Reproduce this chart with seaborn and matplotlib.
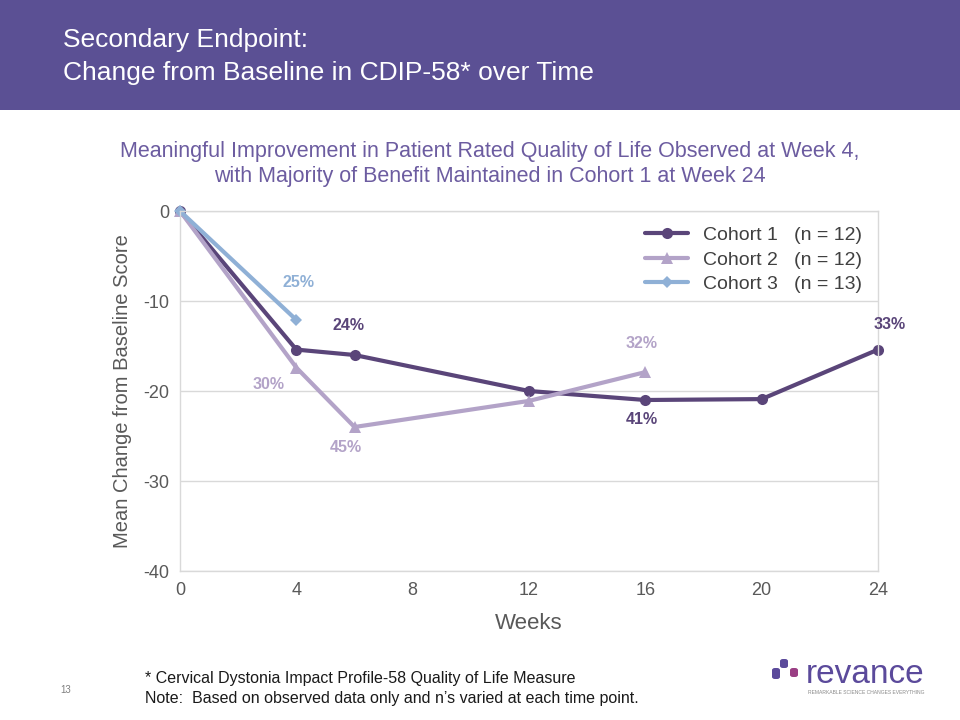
import numpy as np
import pandas as pd
import matplotlib
matplotlib.use("Agg")
import matplotlib.pyplot as plt
import seaborn as sns
from matplotlib.patches import Rectangle, FancyBboxPatch

sns.set_theme(style="white")
plt.rcParams['font.family'] = ['Liberation Sans', 'DejaVu Sans']
plt.rcParams['axes.unicode_minus'] = False

# ---- data ----
weeks_c1 = [0, 4, 6, 12, 16, 20, 24]
vals_c1 = [0, -15.4, -16.0, -20.0, -21.0, -20.9, -15.4]
weeks_c2 = [0, 4, 6, 12, 16]
vals_c2 = [0, -17.4, -24.0, -21.1, -17.9]
weeks_c3 = [0, 4]
vals_c3 = [0, -12.1]
cohort_names = ["Cohort 1   (n = 12)", "Cohort 2   (n = 12)", "Cohort 3   (n = 13)"]
x_ticks = [0, 4, 8, 12, 16, 20, 24]
y_ticks = [0, -10, -20, -30, -40]
# percentage annotations: (week, value, text, cohort index)
ann_weeks = [4, 6, 4, 6, 16, 16, 24]
ann_vals = [-12.1, -16.0, -17.4, -24.0, -17.9, -21.0, -15.4]
ann_text = ["25%", "24%", "30%", "45%", "32%", "41%", "33%"]
ann_cohort = [2, 0, 1, 1, 1, 0, 0]

colors = ["#5a4579", "#b3a3c8", "#8fb0d6"]
markers = ["o", "^", "D"]

df = pd.concat([
    pd.DataFrame({"Weeks": weeks_c1, "Score": vals_c1, "Cohort": cohort_names[0]}),
    pd.DataFrame({"Weeks": weeks_c2, "Score": vals_c2, "Cohort": cohort_names[1]}),
    pd.DataFrame({"Weeks": weeks_c3, "Score": vals_c3, "Cohort": cohort_names[2]}),
])

fig = plt.figure(figsize=(9.6, 7.2), dpi=100)
fig.patch.set_facecolor("white")

# header band
fig.patches.append(Rectangle((0, 1 - 110 / 720), 1, 110 / 720, transform=fig.transFigure,
                             facecolor="#5b5094", edgecolor="none", zorder=0))
fig.text(63 / 960, 1 - 40 / 720, "Secondary Endpoint:", color="white", fontsize=19,
         va="center", ha="left")
fig.text(63 / 960, 1 - 73 / 720, "Change from Baseline in CDIP-58* over Time", color="white",
         fontsize=19, va="center", ha="left")

# chart title
fig.text(490 / 960, 1 - 164 / 720,
         "Meaningful Improvement in Patient Rated Quality of Life Observed at Week 4,\n"
         "with Majority of Benefit Maintained in Cohort 1 at Week 24",
         color="#6c5ca0", fontsize=15.5, ha="center", va="center", linespacing=1.28)

ax = fig.add_axes([180 / 960, 1 - 571 / 720, 698 / 960, 360 / 720])
sns.lineplot(data=df, x="Weeks", y="Score", hue="Cohort", style="Cohort",
             palette=colors, markers=markers, dashes=False, linewidth=3,
             markersize=8, markeredgewidth=0, ax=ax, legend=True)
for line in ax.lines:
    if line.get_marker() == "D":
        line.set_markersize(6)

ax.set_xlim(0, 24)
ax.set_ylim(-40, 0)
ax.set_xticks(x_ticks)
ax.set_yticks(y_ticks)
ax.tick_params(axis="both", labelsize=13, labelcolor="#595959", length=0, pad=8)
ax.yaxis.grid(True, color="#d9d9d9", linewidth=1)
ax.set_axisbelow(True)
for s in ax.spines.values():
    s.set_color("#d9d9d9")
    s.set_linewidth(1)
for line in ax.lines:
    line.set_clip_on(False)

ax.set_xlabel("Weeks", fontsize=16, color="#595959", labelpad=10)
ax.set_ylabel("Mean Change from Baseline Score", fontsize=14.5, color="#595959", labelpad=8)

leg = ax.legend(loc="upper right", frameon=False, fontsize=14, handlelength=2.2,
                borderaxespad=0.4, labelspacing=0.35)
for t in leg.get_texts():
    t.set_color("#404040")

# offsets in pixels
offsets = [(2, 37), (-6, 29), (-28, -17), (-9, -20), (-4, 29), (-4, -20), (12, 25)]
for (w, v, t, c), (dx, dy) in zip(zip(ann_weeks, ann_vals, ann_text, ann_cohort), offsets):
    ax.annotate(t, (w, v), xytext=(dx * 0.72, dy * 0.72), textcoords="offset points",
                ha="center", va="center", fontsize=11.5, fontweight="bold", color=colors[c],
                annotation_clip=False)

# footer
fig.text(145 / 960, 1 - 678 / 720, "* Cervical Dystonia Impact Profile-58 Quality of Life Measure",
         fontsize=11.5, color="#1a1a1a", va="center")
fig.text(145 / 960, 1 - 698 / 720,
         "Note:  Based on observed data only and n\u2019s varied at each time point.",
         fontsize=11.5, color="#1a1a1a", va="center")
fig.text(60 / 960, 1 - 690 / 720, "13", fontsize=7, color="#7f7f7f", va="center")

# logo
logo = "#5b4a9b"
def block(x0, y0, w, h, col):
    fig.patches.append(FancyBboxPatch((x0 / 960, 1 - (y0 + h) / 720), w / 960, h / 720,
                                      boxstyle="round,pad=0,rounding_size=0.003",
                                      transform=fig.transFigure, facecolor=col,
                                      edgecolor="none"))
block(780, 659, 8, 9, logo)
block(772, 668, 8, 11, logo)
block(790, 668, 8, 9, "#9a3f84")
fig.text(806 / 960, 1 - 683 / 720, "revance", fontsize=24, color=logo, va="baseline",
         ha="left")
fig.text(808 / 960, 1 - 693 / 720, "REMARKABLE SCIENCE CHANGES EVERYTHING", fontsize=3.6,
         color="#8a8a8a", va="center", ha="left")

fig.savefig("out.png", dpi=100)
